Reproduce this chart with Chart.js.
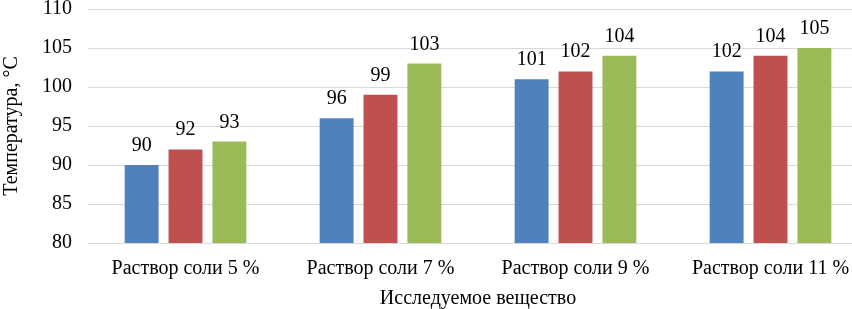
<!DOCTYPE html>
<html>
<head>
<meta charset="utf-8">
<script src="https://cdn.jsdelivr.net/npm/chart.js@4.4.0/dist/chart.umd.min.js"></script>
<style>
  html, body { margin: 0; padding: 0; background: #fff; overflow: hidden; }
  #wrap { width: 852px; height: 309px; overflow: hidden; }
  #chart { margin-top: -19px; display: block; }
</style>
</head>
<body>
<div id="wrap"><canvas id="chart" width="870" height="330"></canvas></div>
<script>
// categories and series
const categories = ['Раствор соли 5 %', 'Раствор соли 7 %', 'Раствор соли 9 %', 'Раствор соли 11 %'];
const seriesA = [90, 96, 101, 102];
const seriesB = [92, 99, 102, 104];
const seriesC = [93, 103, 104, 105];
const yTicks = [80, 85, 90, 95, 100, 105, 110];

const serif = "'Liberation Serif', 'Times New Roman', serif";

// draw value labels above each bar
const barLabels = {
    id: 'barLabels',
    afterDatasetsDraw(chart) {
        const ctx = chart.ctx;
        ctx.save();
        ctx.font = '20px ' + serif;
        ctx.fillStyle = '#000';
        ctx.textAlign = 'center';
        ctx.textBaseline = 'alphabetic';
        chart.data.datasets.forEach((ds, i) => {
            chart.getDatasetMeta(i).data.forEach((bar, j) => {
                ctx.fillText(ds.data[j], bar.x, bar.y - 14);
            });
        });
        ctx.restore();
    },
};

new Chart(document.getElementById('chart'), {
    type: 'bar',
    data: {
        labels: categories,
        datasets: [
            { data: seriesA, backgroundColor: '#4F81BD' },
            { data: seriesB, backgroundColor: '#C0504D' },
            { data: seriesC, backgroundColor: '#9BBB59' },
        ],
    },
    options: {
        responsive: false,
        animation: false,
        layout: { padding: { top: -12, right: 2, left: 0, bottom: 0 } },
        datasets: {
            bar: { categoryPercentage: 0.675, barPercentage: 0.773 },
        },
        plugins: {
            legend: { display: false },
            tooltip: { enabled: false },
        },
        scales: {
            x: {
                grid: { display: false },
                border: { display: false },
                ticks: { color: '#000', font: { family: serif, size: 20 }, padding: 6, maxRotation: 0 },
                title: {
                    display: true,
                    text: 'Исследуемое вещество',
                    color: '#000',
                    font: { family: serif, size: 20 },
                    padding: { top: 0, bottom: 0 },
                },
            },
            y: {
                min: 80,
                max: 110,
                afterBuildTicks(axis) {
                    axis.ticks = yTicks.map((v) => ({ value: v }));
                },
                grid: { color: '#d9d9d9', lineWidth: 1, drawTicks: false },
                border: { display: false },
                ticks: { color: '#000', font: { family: serif, size: 20 }, padding: 16 },
                title: {
                    display: true,
                    text: 'Температура, °C',
                    color: '#000',
                    font: { family: serif, size: 20 },
                    padding: { top: 0, bottom: 2 },
                },
            },
        },
    },
    plugins: [barLabels],
});
</script>
</body>
</html>
